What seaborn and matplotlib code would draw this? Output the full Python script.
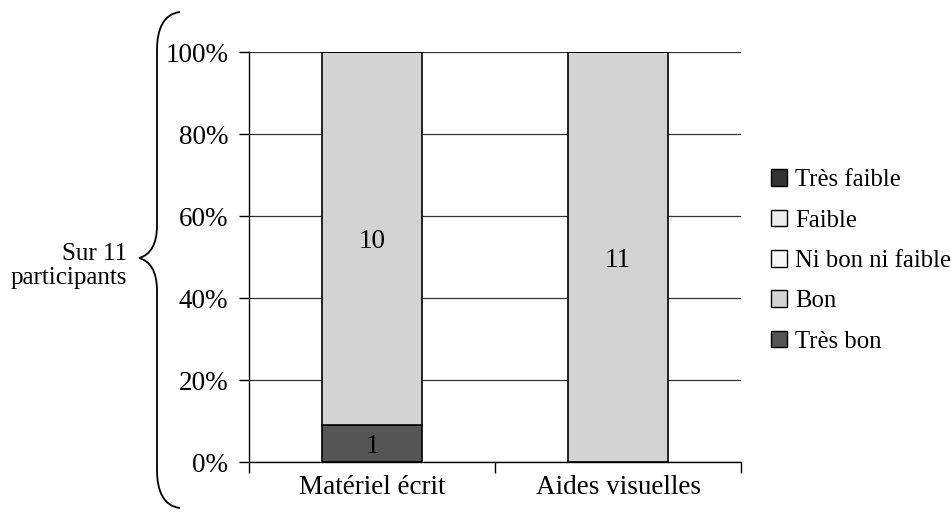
import matplotlib
matplotlib.use("Agg")
import matplotlib.pyplot as plt
import seaborn as sns
import numpy as np
import pandas as pd
from matplotlib.path import Path
from matplotlib.patches import PathPatch, Patch

supports = ["Matériel écrit", "Aides visuelles"]
# stack order from bottom to top
ratings = ["Très bon", "Bon", "Ni bon ni faible", "Faible", "Très faible"]
counts = {
    "Très bon": [1, 0],
    "Bon": [10, 11],
    "Ni bon ni faible": [0, 0],
    "Faible": [0, 0],
    "Très faible": [0, 0],
}
colors = {
    "Très bon": "#555555",
    "Bon": "#d3d3d3",
    "Ni bon ni faible": "#f8f8f8",
    "Faible": "#ececec",
    "Très faible": "#333333",
}
ytick_labels = ["0%", "20%", "40%", "60%", "80%", "100%"]

sns.set_style("white")
plt.rcParams["font.family"] = ["Liberation Serif", "DejaVu Serif"]
plt.rcParams["text.color"] = "black"
plt.rcParams["xtick.color"] = "black"
plt.rcParams["ytick.color"] = "black"
plt.rcParams["xtick.labelcolor"] = "black"
plt.rcParams["ytick.labelcolor"] = "black"
fs = 19.5

totals = np.sum([counts[r] for r in ratings], axis=0)

fig = plt.figure(figsize=(9.51, 5.14), dpi=100)
ax = fig.add_axes([249 / 951, 1 - 462 / 514, (741 - 249) / 951, (462 - 52) / 514])

bottom = np.zeros(len(supports))
for r in ratings:
    share = np.array(counts[r]) / totals * 100
    df = pd.DataFrame({"support": supports, "share": share})
    sns.barplot(data=df, x="support", y="share", color=colors[r], bottom=bottom,
                width=0.41, edgecolor="black", linewidth=1.2, ax=ax, errorbar=None,
                saturation=1)
    for i, (c, s) in enumerate(zip(counts[r], share)):
        if c > 0:
            ax.text(i, bottom[i] + s / 2, str(c), ha="center", va="center_baseline",
                    fontsize=fs, color="black")
    bottom += share

ax.set_xlim(-0.5, 1.5)
ax.set_ylim(0, 100)
ax.set_yticks(np.arange(0, 101, 20))
ax.set_yticklabels(ytick_labels, fontsize=fs)
ax.set_xticks([-0.5, 0.5, 1.5])
ax.set_xticklabels([])
ax.set_xticks([0, 1], minor=True)
ax.set_xticklabels(supports, minor=True, fontsize=fs)
ax.tick_params(axis="x", which="major", bottom=True, direction="out", length=8, width=1,
               color="black")
ax.tick_params(axis="x", which="minor", bottom=True, length=0, pad=9)
ax.tick_params(axis="y", left=True, direction="out", length=7, width=1, color="black", pad=8)
ax.yaxis.grid(True, color="#333333", linewidth=0.9)
ax.set_axisbelow(True)
ax.set_xlabel("")
ax.set_ylabel("")
for side in ["top", "right"]:
    ax.spines[side].set_visible(False)
for side in ["left", "bottom"]:
    ax.spines[side].set_color("black")
    ax.spines[side].set_linewidth(1)

handles = [Patch(facecolor=colors[r], edgecolor="black", linewidth=1) for r in ratings[::-1]]
fig.legend(handles, ratings[::-1], loc="center left", bbox_to_anchor=(771 / 951, 1 - 261 / 514),
           frameon=False, fontsize=17.8, handlelength=0.65, handleheight=0.65,
           handletextpad=0.33, labelspacing=0.74, borderaxespad=0, borderpad=0)

# curly brace at the left
def fx(x):
    return x / 951

def fy(y):
    return 1 - y / 514

pts = [(180, 12), (163, 14), (157, 30), (157, 50),
       (157, 225),
       (157, 245), (150, 255), (139, 258),
       (150, 261), (157, 271), (157, 291),
       (157, 470),
       (157, 490), (163, 506), (180, 508)]
codes = [Path.MOVETO, Path.CURVE4, Path.CURVE4, Path.CURVE4,
         Path.LINETO,
         Path.CURVE4, Path.CURVE4, Path.CURVE4,
         Path.CURVE4, Path.CURVE4, Path.CURVE4,
         Path.LINETO,
         Path.CURVE4, Path.CURVE4, Path.CURVE4]
brace = Path([(fx(x), fy(y)) for x, y in pts], codes)
fig.patches.append(PathPatch(brace, facecolor="none", edgecolor="black", linewidth=1.3,
                             transform=fig.transFigure))
fig.text(fx(127), fy(266), "Sur 11\nparticipants", ha="right", va="center",
         fontsize=18, linespacing=1.15, multialignment="right", color="black")

fig.savefig("out.png", dpi=100)
